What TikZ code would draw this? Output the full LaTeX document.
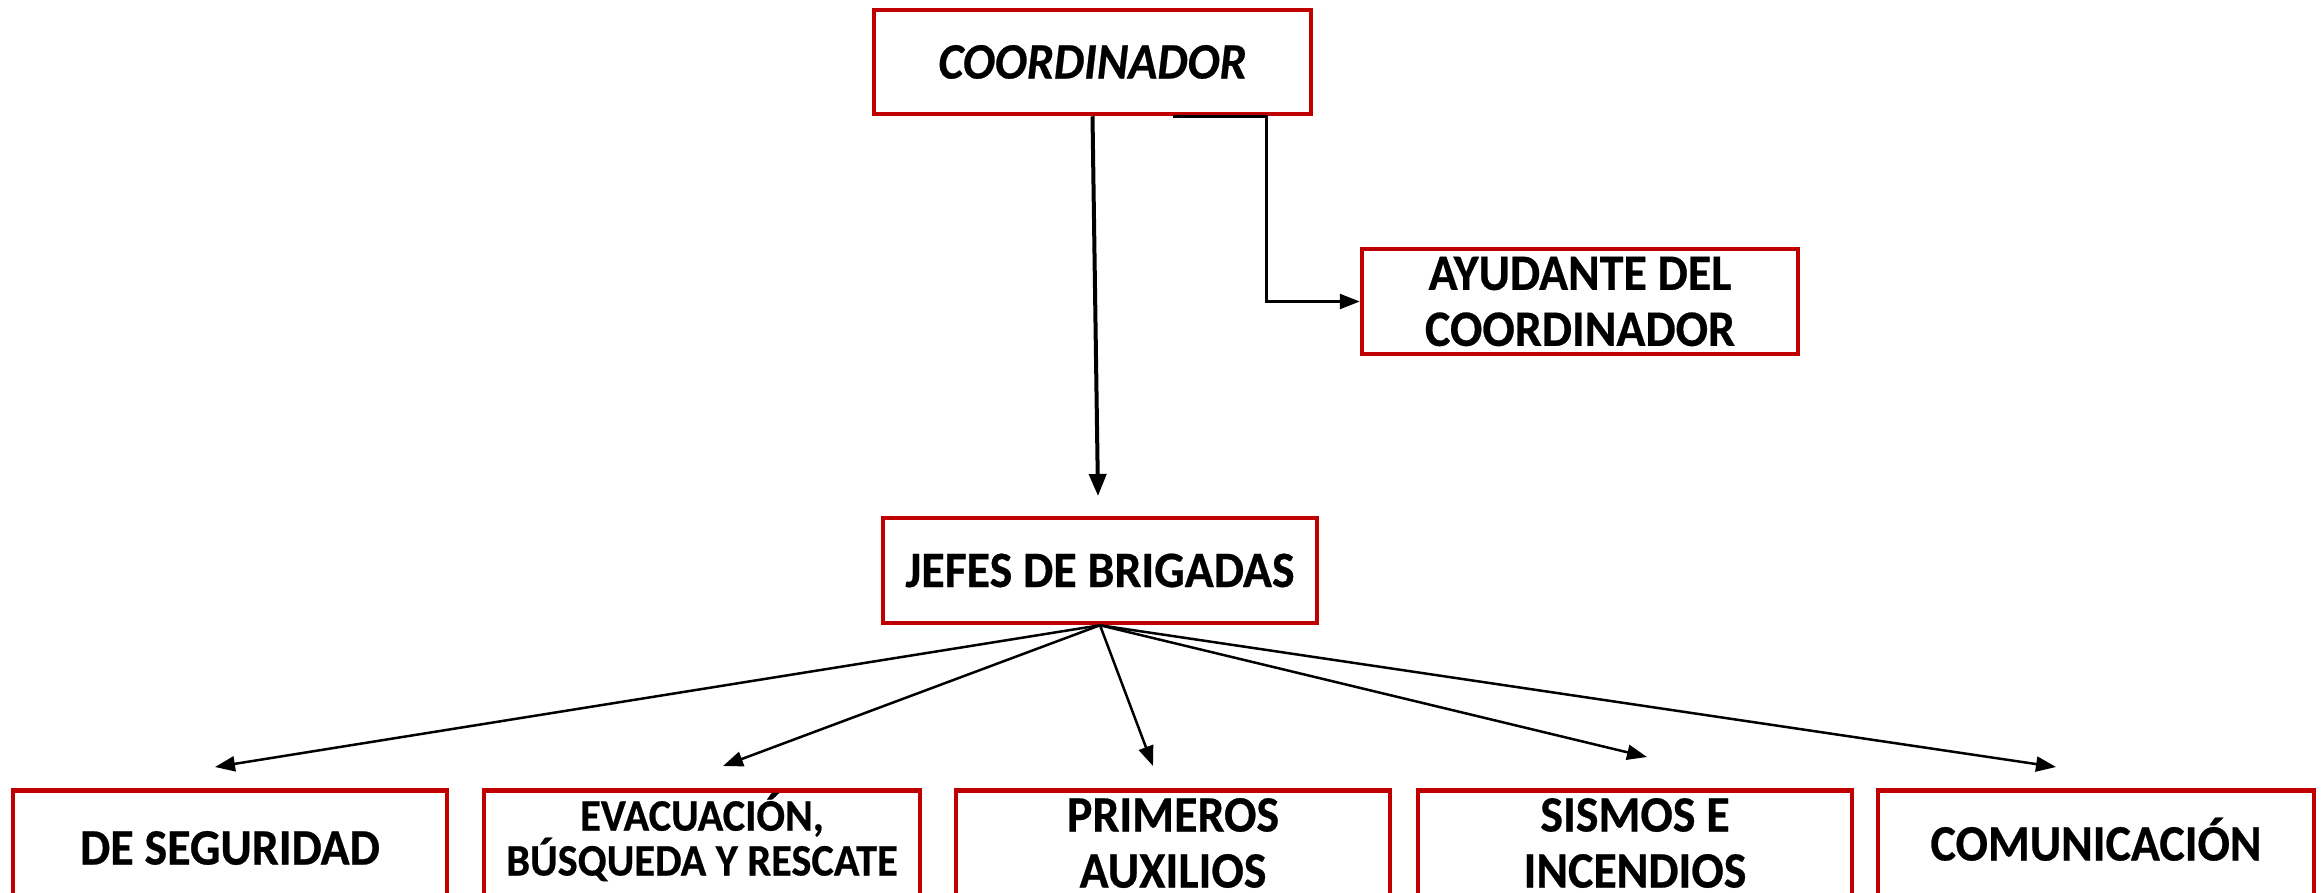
\documentclass[tikz,border=0pt]{standalone}
\usepackage{fontspec}
\setmainfont{Carlito}[FakeStretch=0.94,FakeBold=0.5]
\usetikzlibrary{arrows.meta}
\definecolor{boxred}{HTML}{C00000}
\begin{document}
\begin{tikzpicture}[x=1pt,y=-1pt,
  box/.style={draw=boxred,line width=4.5pt,inner sep=0pt,fill=white},
  lbl/.style={font=\bfseries\fontsize{51}{56}\selectfont,align=center,inner sep=0pt},
  one/.style={text height=33pt,text depth=0pt},
  small/.style={font=\bfseries\fontsize{45}{43}\selectfont,align=center,inner sep=0pt},
  fan/.style={line width=2.5pt,-{Triangle[length=20pt,width=15pt]}},
  thick/.style={line width=4pt,-{Triangle[length=22pt,width=17pt]}},
  branch/.style={line width=2.5pt,-{Triangle[length=20pt,width=15pt]}}]
\useasboundingbox (0,0) rectangle (2323,892);
\clip (0,0) rectangle (2323,892);
\fill[white] (0,0) rectangle (2323,892);

% top boxes
\node[box,lbl,one,minimum width=437pt,minimum height=104pt] (coord) at (1092.5,62) {\itshape COORDINADOR};
\node[box,lbl,minimum width=436pt,minimum height=105pt] (ayud) at (1580,301.5) {AYUDANTE DEL\\COORDINADOR};
\node[box,lbl,one,minimum width=434pt,minimum height=105pt] (jefes) at (1100,570.5) {JEFES DE BRIGADAS};

% bottom boxes
\node[box,minimum width=434pt,minimum height=200pt,anchor=north] (b1) at (230,788) {};
\node[box,minimum width=436pt,minimum height=200pt,anchor=north] (b2) at (702,788) {};
\node[box,minimum width=434pt,minimum height=200pt,anchor=north] (b3) at (1173,788) {};
\node[box,minimum width=434pt,minimum height=200pt,anchor=north] (b4) at (1635,788) {};
\node[box,minimum width=436pt,minimum height=200pt,anchor=north] (b5) at (2096,788) {};

\node[lbl,one] (t1) at (230,848) {DE SEGURIDAD};
\node[small] (t2) at (702,837) {EVACUACIÓN,\\BÚSQUEDA Y RESCATE};
\node[lbl] (t3) at (1173,843) {PRIMEROS\\AUXILIOS};
\node[lbl] (t4) at (1635,843) {SISMOS E\\INCENDIOS};
\node[lbl,one] (t5) at (2096,844) {COMUNICACIÓN};

% arrow end points
\coordinate (cj) at (1098,496);
\coordinate (e1) at (215,767);
\coordinate (e2) at (723,766);
\coordinate (e3) at (1153,766);
\coordinate (e4) at (1647,757);
\coordinate (e5) at (2056,767);

% connectors
\draw[thick] (coord.south) -- (cj);
\draw[branch] ([xshift=80pt]coord.south) -- ++(94,0) |- (ayud.west);
\draw[fan] (jefes.south) -- (e1);
\draw[fan] (jefes.south) -- (e2);
\draw[fan] (jefes.south) -- (e3);
\draw[fan] (jefes.south) -- (e4);
\draw[fan] (jefes.south) -- (e5);
\end{tikzpicture}
\end{document}
